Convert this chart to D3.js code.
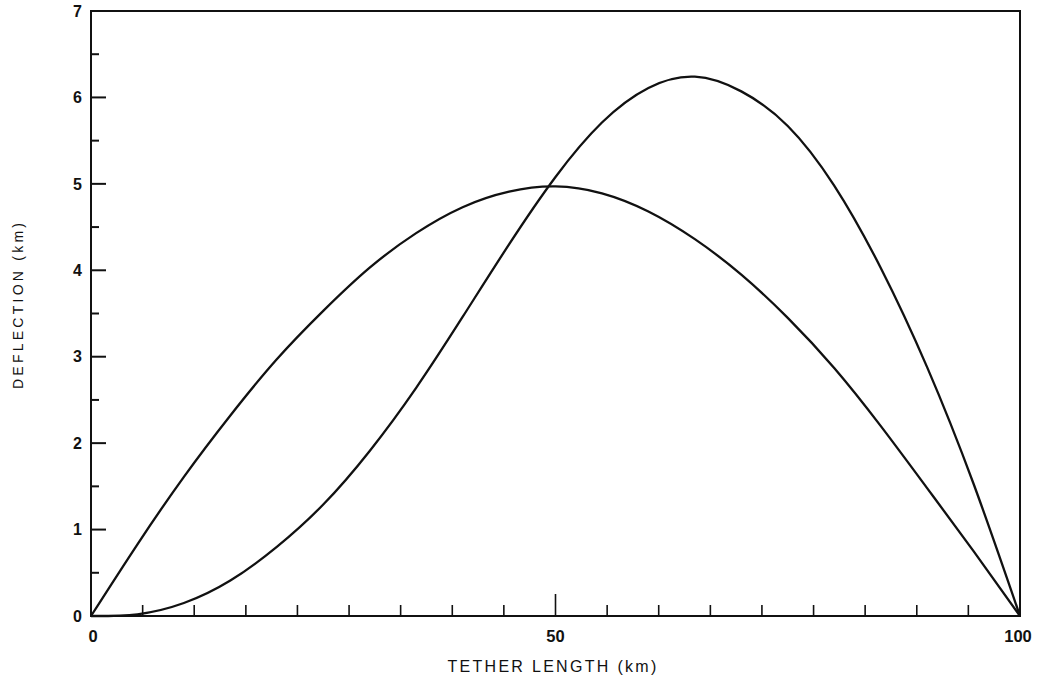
<!DOCTYPE html>
<html>
<head>
<meta charset="utf-8">
<script src="https://cdn.jsdelivr.net/npm/d3@7/dist/d3.min.js"></script>
<style>
  html, body { margin: 0; padding: 0; background: #fff; }
  svg { display: block; }
  text { font-family: "Liberation Sans", Arial, sans-serif; fill: #111; }
</style>
</head>
<body>
<svg id="chart" width="1038" height="680"></svg>
<script>
// Tether length (km) sampled every 5 km
const tetherLength = [0, 5, 10, 15, 20, 25, 30, 35, 40, 45, 50, 55, 60, 65, 70, 75, 80, 85, 90, 95, 100];
// Deflection (km) for the two tether profiles
const deflectionA = [0, 0.83, 1.61, 2.32, 2.97, 3.53, 4.03, 4.43, 4.73, 4.91, 4.97, 4.89, 4.68, 4.36, 3.95, 3.45, 2.87, 2.20, 1.48, 0.75, 0];
const deflectionB = [0, 0.02, 0.15, 0.41, 0.80, 1.29, 1.91, 2.64, 3.46, 4.30, 5.08, 5.71, 6.11, 6.24, 6.07, 5.67, 4.98, 4.03, 2.88, 1.53, 0];

// Axis ticks
const xMajorTicks = [0, 50, 100];
const xMinorTicks = [5.56, 11.11, 16.67, 22.22, 27.78, 33.33, 38.89, 44.44, 55.56, 61.11, 66.67, 72.22, 77.78, 83.33, 88.89, 94.44];
const yMajorTicks = [0, 1, 2, 3, 4, 5, 6, 7];
const yMinorTicks = [0.5, 1.5, 2.5, 3.5, 4.5, 5.5, 6.5];

const xTitle = "TETHER LENGTH (km)";
const yTitle = "DEFLECTION (km)";

const svg = d3.select("#chart");
const plotLeft = 91, plotRight = 1020, plotTop = 11, plotBottom = 616;

const x = d3.scaleLinear().domain([0, 100]).range([plotLeft, plotRight]);
const y = d3.scaleLinear().domain([0, 7]).range([plotBottom, plotTop]);

const ink = "#111";

// Frame
svg.append("rect")
  .attr("x", plotLeft).attr("y", plotTop)
  .attr("width", plotRight - plotLeft).attr("height", plotBottom - plotTop)
  .attr("fill", "none").attr("stroke", ink).attr("stroke-width", 2);

// Y axis: ticks pointing inward
const yAxis = svg.append("g");
yAxis.selectAll("line.major").data(yMajorTicks.filter(d => d > 0 && d < 7)).join("line")
  .attr("class", "major")
  .attr("x1", plotLeft).attr("x2", plotLeft + 15)
  .attr("y1", d => y(d)).attr("y2", d => y(d))
  .attr("stroke", ink).attr("stroke-width", 2);
yAxis.selectAll("line.minor").data(yMinorTicks).join("line")
  .attr("class", "minor")
  .attr("x1", plotLeft).attr("x2", plotLeft + 8)
  .attr("y1", d => y(d)).attr("y2", d => y(d))
  .attr("stroke", ink).attr("stroke-width", 2);
yAxis.selectAll("text").data(yMajorTicks).join("text")
  .attr("x", plotLeft - 9)
  .attr("y", d => y(d))
  .attr("dy", "0.36em")
  .attr("text-anchor", "end")
  .attr("font-size", 16)
  .attr("font-weight", "bold")
  .text(d => d);

// X axis: ticks pointing inward
const xAxis = svg.append("g");
xAxis.selectAll("line.minor").data(xMinorTicks).join("line")
  .attr("class", "minor")
  .attr("x1", d => x(d)).attr("x2", d => x(d))
  .attr("y1", plotBottom).attr("y2", plotBottom - 11)
  .attr("stroke", ink).attr("stroke-width", 1.6);
xAxis.selectAll("line.major").data(xMajorTicks.filter(d => d > 0 && d < 100)).join("line")
  .attr("class", "major")
  .attr("x1", d => x(d)).attr("x2", d => x(d))
  .attr("y1", plotBottom).attr("y2", plotBottom - 22)
  .attr("stroke", ink).attr("stroke-width", 1.6);
xAxis.selectAll("text").data(xMajorTicks).join("text")
  .attr("x", d => x(d) + (d === 0 ? 2 : d === 100 ? -2 : 0))
  .attr("y", plotBottom + 26)
  .attr("text-anchor", "middle")
  .attr("font-size", 16.5)
  .attr("font-weight", "bold")
  .text(d => d);

// Axis titles
svg.append("text")
  .attr("x", 553)
  .attr("y", 672)
  .attr("text-anchor", "middle")
  .attr("font-size", 16)
  .attr("letter-spacing", 2.3)
  .text(xTitle);

svg.append("text")
  .attr("transform", "translate(23, 306) rotate(-90)")
  .attr("text-anchor", "middle")
  .attr("font-size", 14)
  .attr("textLength", 166)
  .attr("lengthAdjust", "spacing")
  .text(yTitle);

// Deflection curves
const line = d3.line()
  .x(d => x(d[0]))
  .y(d => y(d[1]))
  .curve(d3.curveNatural);

const seriesA = d3.zip(tetherLength, deflectionA);
const seriesB = d3.zip(tetherLength, deflectionB);

svg.append("g").selectAll("path").data([seriesA, seriesB]).join("path")
  .attr("d", line)
  .attr("fill", "none")
  .attr("stroke", ink)
  .attr("stroke-width", 2.3)
  .attr("stroke-linejoin", "round");
</script>
</body>
</html>
